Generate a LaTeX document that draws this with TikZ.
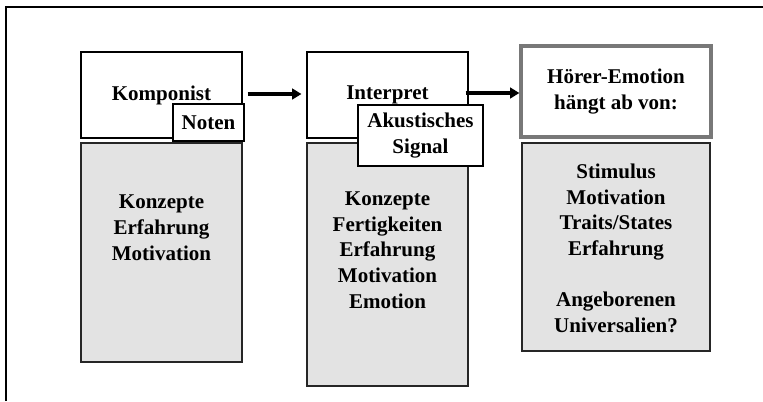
\documentclass[tikz,border=0pt]{standalone}
\usepackage{fontspec}
\setmainfont{Liberation Serif}
\usepackage{xcolor}
\usetikzlibrary{shapes, positioning, arrows.meta}

\definecolor{boxgray}{HTML}{E3E3E3}
\definecolor{framegray}{HTML}{787878}

\tikzset{
    txt/.style={font=\fontsize{15.75}{19.2}\selectfont\bfseries, align=center},
    topbox/.style={rectangle, draw, line width=0.8pt, fill=white, inner sep=0pt, txt},
    listbox/.style={rectangle, draw=black!85, line width=1.2pt, fill=boxgray, inner sep=0pt},
    tagbox/.style={rectangle, draw, line width=1.6pt, fill=white, inner sep=0pt, txt},
    flow/.style={-{Triangle[length=7pt, width=8pt]}, line width=2.4pt}
}

\begin{document}
\begin{tikzpicture}[x=0.75pt, y=-0.75pt]
        \useasboundingbox (0, 0) rectangle (763, 401);
        \draw[line width=0.9pt] (6, 401) -- (6, 7) -- (763, 7);

        % composer
        \node[listbox, minimum width=120.75pt, minimum height=164.25pt] (kgray) at (161.5, 252.5) {};
        \node[topbox, minimum width=120.75pt, minimum height=64.5pt] (komponist) at (161.5, 95) {Komponist};
        \node[tagbox, minimum width=53.25pt, minimum height=27.75pt] (noten) at (208.5, 122.5) {Noten};
        \node[txt, anchor=base] (ktext) at (161.5, 260) {Konzepte\\Erfahrung\\Motivation};

        % performer
        \node[listbox, minimum width=120.75pt, minimum height=182.25pt] (igray) at (387.5, 264.5) {};
        \node[topbox, minimum width=120.75pt, minimum height=64.5pt] (interpret) at (387.5, 95) {Interpret};
        \node[tagbox, minimum width=93.75pt, minimum height=45.75pt] (signal) at (420.5, 135.5) {Akustisches\\Signal};
        \node[txt, anchor=base] (itext) at (387.5, 308) {Konzepte\\Fertigkeiten\\Erfahrung\\Motivation\\Emotion};

        % listener
        \node[listbox, minimum width=141pt, minimum height=156pt] (hgray) at (616, 247) {};
        \node[topbox, draw=framegray, line width=2.4pt, minimum width=142.5pt, minimum height=68.25pt] (hoerer) at (616, 91.5) {H\"orer-Emotion\\h\"angt ab von:};
        \node[txt, anchor=base] (htext) at (616, 332) {Stimulus\\Motivation\\Traits/States\\Erfahrung\\[19pt]Angeborenen\\Universalien?};

        \draw[flow, shorten <=3.75pt, shorten >=3.75pt] ([yshift=0.75pt]komponist.east) to ([yshift=0.75pt]interpret.west);
        \draw[flow, shorten <=-2.25pt] ([yshift=1.5pt]interpret.east) to ([yshift=1.5pt]interpret.east -| hoerer.west);
    \end{tikzpicture}
\end{document}
